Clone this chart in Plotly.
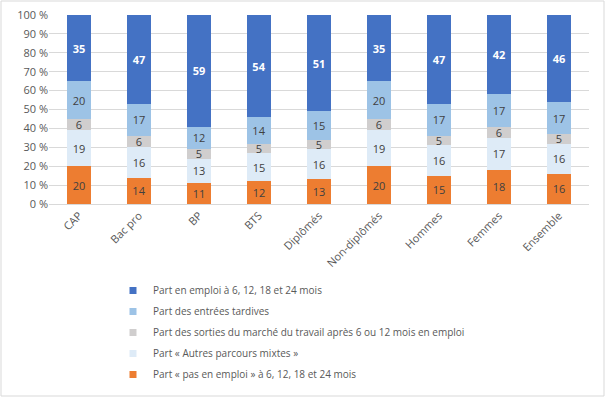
import plotly.graph_objects as go

categories = ["CAP", "Bac pro", "BP", "BTS", "Diplômés", "Non-diplômés", "Hommes", "Femmes", "Ensemble"]
pas_emploi = [20, 14, 11, 12, 13, 20, 15, 18, 16]
autres_mixtes = [19, 16, 13, 15, 16, 19, 16, 17, 16]
sorties = [6, 6, 5, 5, 5, 6, 5, 6, 5]
entrees_tardives = [20, 17, 12, 14, 15, 20, 17, 17, 17]
emploi = [35, 47, 59, 54, 51, 35, 47, 42, 46]

series = [
    ("Part « pas en emploi » à 6, 12, 18 et 24 mois", pas_emploi, "#ED7D31", "#404040", False),
    ("Part « Autres parcours mixtes »", autres_mixtes, "#DEEBF7", "#404040", False),
    ("Part des sorties du marché du travail après 6 ou 12 mois en emploi", sorties, "#D0CECE", "#404040", False),
    ("Part des entrées tardives", entrees_tardives, "#9DC3E6", "#404040", False),
    ("Part en emploi à 6, 12, 18 et 24 mois", emploi, "#4472C4", "#FFFFFF", True),
]

tick_vals = [0, 10, 20, 30, 40, 50, 60, 70, 80, 90, 100]
tick_text = [f"{v} %" for v in tick_vals]

fig = go.Figure()
for name, vals, color, tcolor, bold in series:
    fig.add_trace(go.Bar(
        x=categories, y=vals, name=name,
        marker=dict(color=color, line=dict(width=0)),
        text=[f"<b>{v}</b>" if bold else str(v) for v in vals],
        textposition="inside", insidetextanchor="middle", textangle=0,
        constraintext="none",
        textfont=dict(color=tcolor, size=11, family="Open Sans"),
        hoverinfo="skip", showlegend=False,
    ))
# legend entries with small square symbols (top entry = top of the stack)
for name, vals, color, tcolor, bold in reversed(series):
    fig.add_trace(go.Scatter(
        x=[None], y=[None], mode="markers", name=name,
        marker=dict(symbol="square", size=7, color=color),
        hoverinfo="skip", legendgroup=name,
    ))

fig.update_layout(
    barmode="stack",
    bargap=0.6,
    width=605, height=398,
    margin=dict(l=49, r=16, t=15, b=194, autoexpand=False),
    paper_bgcolor="white", plot_bgcolor="white",
    font=dict(family="Open Sans", size=11, color="#595959"),
    uniformtext=dict(minsize=8, mode="show"),
    showlegend=True,
    legend=dict(
        orientation="v", traceorder="grouped", x=113/605, xanchor="left", xref="container",
        y=1 - 276/398, yanchor="top", yref="container", tracegroupgap=2,
        font=dict(size=10, color="#595959", family="Open Sans"),
        itemwidth=30,
    ),
    shapes=[dict(type="rect", xref="paper", yref="paper", x0=-48/540, x1=1+15/540,
                 y0=-192/189, y1=1+14/189, line=dict(color="#D9D9D9", width=1))],
)
fig.update_yaxes(range=[0, 100], tickvals=tick_vals, ticktext=tick_text,
                 showgrid=True, gridcolor="#D9D9D9", zeroline=False,
                 tickfont=dict(size=11, color="#595959"), ticks="")
fig.update_xaxes(tickangle=-45, showline=True, linecolor="#D9D9D9",
                 tickfont=dict(size=11, color="#595959"), ticks="")

fig.write_html("out.html", config={"displayModeBar": False},
               post_script="document.body.style.margin='0';")
